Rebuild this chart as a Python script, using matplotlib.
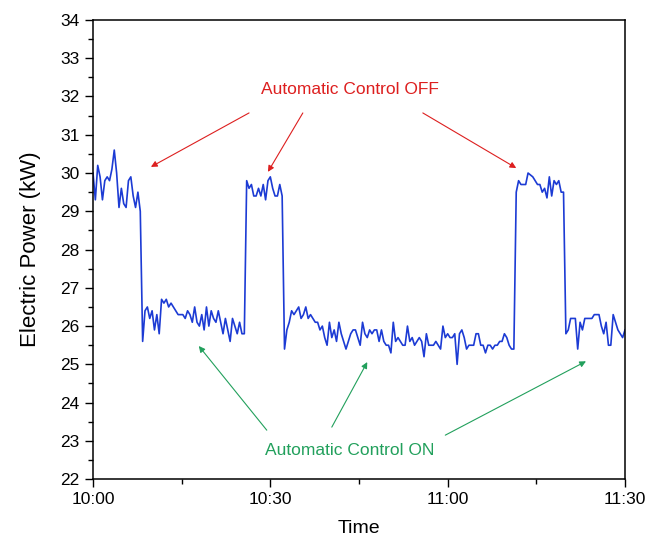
import numpy as np
import matplotlib
matplotlib.use("Agg")
import matplotlib.pyplot as plt
from matplotlib.ticker import MultipleLocator

plt.rcParams["font.family"] = ["Liberation Sans", "DejaVu Sans"]

# readings every 0.4 min starting at 10:00, split by control state
off1 = [30.0, 29.3, 30.2, 29.9, 29.3, 29.8, 29.9, 29.8, 30.1, 30.6,
        30.0, 29.1, 29.6, 29.2, 29.1, 29.8, 29.9, 29.4, 29.1, 29.5, 29.0]
on1 = [25.6, 26.4, 26.5, 26.2, 26.4, 25.9, 26.3, 25.8, 26.7, 26.6,
       26.7, 26.5, 26.6, 26.5, 26.4, 26.3, 26.3, 26.3, 26.2, 26.4,
       26.3, 26.1, 26.5, 26.1, 26.0, 26.3, 25.9, 26.5, 26.0, 26.4,
       26.2, 26.1, 26.4, 26.1, 25.8, 26.2, 25.9, 25.6, 26.2, 26.0,
       25.8, 26.1, 25.8, 25.8]
off2 = [29.8, 29.6, 29.7, 29.4, 29.4, 29.6, 29.4, 29.7, 29.3, 29.8,
        29.9, 29.6, 29.4, 29.4, 29.7, 29.4]
on2 = [25.4, 25.9, 26.1, 26.4, 26.3, 26.4, 26.5, 26.2, 26.3, 26.5,
       26.2, 26.3, 26.2, 26.1, 26.1, 25.9, 26.0, 25.7, 25.5, 26.1,
       25.7, 25.9, 25.6, 26.1, 25.8, 25.6, 25.4, 25.6, 25.8, 25.9,
       25.9, 25.7, 25.5, 26.1, 25.8, 25.7, 25.9, 25.8, 25.9, 25.9,
       25.6, 25.9, 25.6, 25.5, 25.5, 25.3, 26.1,
       25.6, 25.7, 25.6, 25.5, 25.5, 26.0, 25.6, 25.7, 25.5, 25.6,
       25.7, 25.6, 25.2, 25.8, 25.5, 25.5, 25.5, 25.6, 25.5, 25.4,
       26.0, 25.7, 25.8, 25.7, 25.7, 25.8, 25.0, 25.8, 25.9, 25.7,
       25.4, 25.5, 25.5, 25.5, 25.8, 25.8, 25.5, 25.5, 25.3, 25.5,
       25.5, 25.4, 25.5, 25.5, 25.6, 25.6, 25.8, 25.7, 25.5, 25.4, 25.4]
off3 = [29.5, 29.8, 29.7, 29.7, 29.7, 30.0, 29.95, 29.9, 29.8, 29.7,
        29.7, 29.5, 29.6, 29.35, 29.9, 29.4, 29.8, 29.7, 29.8, 29.5, 29.5]
on3 = [25.8, 25.9, 26.2, 26.2, 26.2, 25.4, 26.1, 25.9, 26.2, 26.2,
       26.2, 26.2, 26.3, 26.3, 26.3, 26.0, 25.8, 26.1, 25.5, 25.5,
       26.3, 26.1, 25.9, 25.8, 25.7, 25.9]

power = np.array(off1 + on1 + off2 + on2 + off3 + on3)
minutes = np.arange(len(power)) * 0.4

time_ticks = [0, 30, 60, 90]
time_labels = ["10:00", "10:30", "11:00", "11:30"]

fig = plt.figure(figsize=(6.48, 5.39), dpi=100)
ax = fig.add_axes([0.1435, 0.111, 0.821, 0.852])

ax.plot(minutes, power, color="#1c3bd4", lw=1.2)

ax.set_xlim(0, 90)
ax.set_ylim(22, 34)
ax.set_xticks(time_ticks)
ax.set_xticklabels(time_labels)
ax.xaxis.set_minor_locator(MultipleLocator(15))
ax.yaxis.set_major_locator(MultipleLocator(1))
ax.yaxis.set_minor_locator(MultipleLocator(0.5))
ax.tick_params(which="major", direction="out", length=6, width=1, labelsize=12.5)
ax.tick_params(which="minor", direction="out", length=3.5, width=1)
for s in ax.spines.values():
    s.set_linewidth(1.1)

ax.set_xlabel("Time", fontsize=14, labelpad=9)
ax.set_ylabel("Electric Power (kW)", fontsize=16, labelpad=14)

red = "#dd1f1f"
green = "#22a05c"
ax.text(43.5, 32.17, "Automatic Control OFF", color=red, fontsize=12.5,
        ha="center", va="center")
for start, end in [((26.4, 31.57), (9.8, 30.16)),
                   ((35.5, 31.57), (29.6, 30.03)),
                   ((55.8, 31.57), (71.6, 30.13))]:
    ax.annotate("", xy=end, xytext=start,
                arrowprops=dict(arrowstyle="-|>", color=red, lw=0.8,
                                mutation_scale=9, shrinkA=0, shrinkB=0))

ax.text(43.5, 22.76, "Automatic Control ON", color=green, fontsize=12.5,
        ha="center", va="center")
for start, end in [((29.4, 23.28), (17.9, 25.48)),
                   ((40.4, 23.36), (46.4, 25.06)),
                   ((59.6, 23.15), (83.4, 25.08))]:
    ax.annotate("", xy=end, xytext=start,
                arrowprops=dict(arrowstyle="-|>", color=green, lw=0.8,
                                mutation_scale=9, shrinkA=0, shrinkB=0))

fig.savefig("out.png", dpi=100)
